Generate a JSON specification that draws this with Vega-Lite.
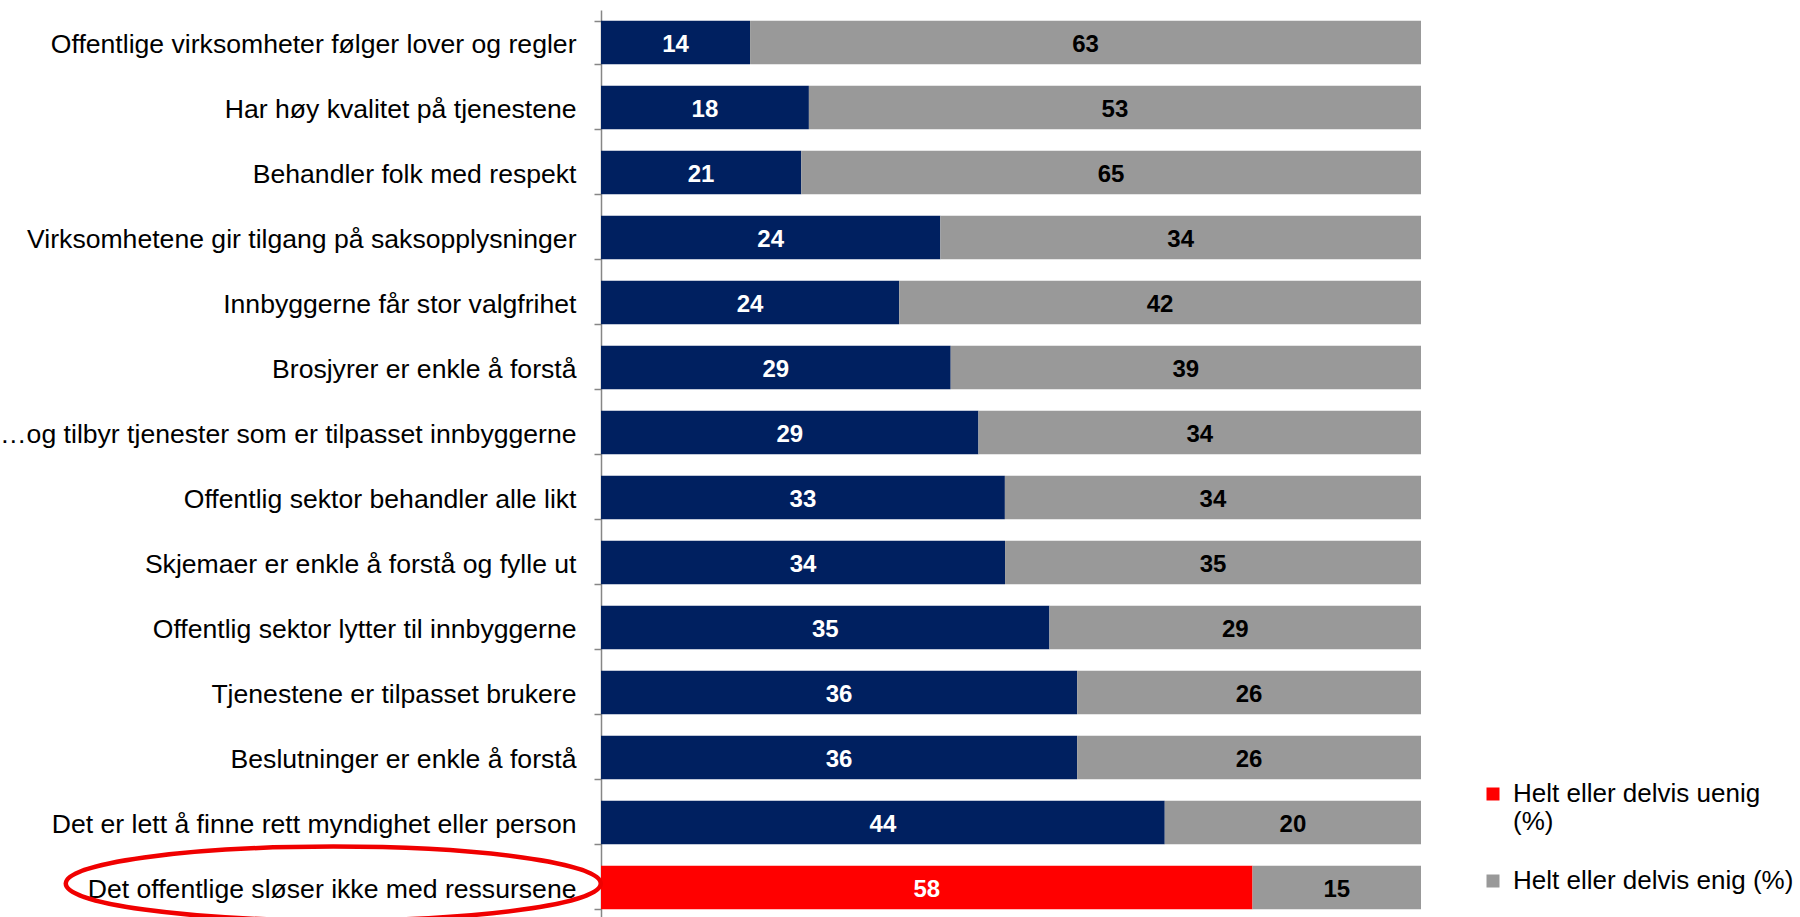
{
  "$schema": "https://vega.github.io/schema/vega-lite/v6.json",
  "autosize": {"type": "none"},
  "padding": {"left": 601, "top": 10, "right": 379, "bottom": 0},
  "width": 820,
  "height": 910,
  "background": "white",
  "config": {"view": {"stroke": null}},
  "data": {
    "values": [
      {"utsagn": "Offentlige virksomheter følger lover og regler", "svar": "Helt eller delvis uenig (%)", "prosent": 14, "markert": false},
      {"utsagn": "Offentlige virksomheter følger lover og regler", "svar": "Helt eller delvis enig (%)", "prosent": 63, "markert": false},
      {"utsagn": "Har høy kvalitet på tjenestene", "svar": "Helt eller delvis uenig (%)", "prosent": 18, "markert": false},
      {"utsagn": "Har høy kvalitet på tjenestene", "svar": "Helt eller delvis enig (%)", "prosent": 53, "markert": false},
      {"utsagn": "Behandler folk med respekt", "svar": "Helt eller delvis uenig (%)", "prosent": 21, "markert": false},
      {"utsagn": "Behandler folk med respekt", "svar": "Helt eller delvis enig (%)", "prosent": 65, "markert": false},
      {"utsagn": "Virksomhetene gir tilgang på saksopplysninger", "svar": "Helt eller delvis uenig (%)", "prosent": 24, "markert": false},
      {"utsagn": "Virksomhetene gir tilgang på saksopplysninger", "svar": "Helt eller delvis enig (%)", "prosent": 34, "markert": false},
      {"utsagn": "Innbyggerne får stor valgfrihet", "svar": "Helt eller delvis uenig (%)", "prosent": 24, "markert": false},
      {"utsagn": "Innbyggerne får stor valgfrihet", "svar": "Helt eller delvis enig (%)", "prosent": 42, "markert": false},
      {"utsagn": "Brosjyrer er enkle å forstå", "svar": "Helt eller delvis uenig (%)", "prosent": 29, "markert": false},
      {"utsagn": "Brosjyrer er enkle å forstå", "svar": "Helt eller delvis enig (%)", "prosent": 39, "markert": false},
      {"utsagn": "…og tilbyr tjenester som er tilpasset innbyggerne", "svar": "Helt eller delvis uenig (%)", "prosent": 29, "markert": false},
      {"utsagn": "…og tilbyr tjenester som er tilpasset innbyggerne", "svar": "Helt eller delvis enig (%)", "prosent": 34, "markert": false},
      {"utsagn": "Offentlig sektor behandler alle likt", "svar": "Helt eller delvis uenig (%)", "prosent": 33, "markert": false},
      {"utsagn": "Offentlig sektor behandler alle likt", "svar": "Helt eller delvis enig (%)", "prosent": 34, "markert": false},
      {"utsagn": "Skjemaer er enkle å forstå og fylle ut", "svar": "Helt eller delvis uenig (%)", "prosent": 34, "markert": false},
      {"utsagn": "Skjemaer er enkle å forstå og fylle ut", "svar": "Helt eller delvis enig (%)", "prosent": 35, "markert": false},
      {"utsagn": "Offentlig sektor lytter til innbyggerne", "svar": "Helt eller delvis uenig (%)", "prosent": 35, "markert": false},
      {"utsagn": "Offentlig sektor lytter til innbyggerne", "svar": "Helt eller delvis enig (%)", "prosent": 29, "markert": false},
      {"utsagn": "Tjenestene er tilpasset brukere", "svar": "Helt eller delvis uenig (%)", "prosent": 36, "markert": false},
      {"utsagn": "Tjenestene er tilpasset brukere", "svar": "Helt eller delvis enig (%)", "prosent": 26, "markert": false},
      {"utsagn": "Beslutninger er enkle å forstå", "svar": "Helt eller delvis uenig (%)", "prosent": 36, "markert": false},
      {"utsagn": "Beslutninger er enkle å forstå", "svar": "Helt eller delvis enig (%)", "prosent": 26, "markert": false},
      {"utsagn": "Det er lett å finne rett myndighet eller person", "svar": "Helt eller delvis uenig (%)", "prosent": 44, "markert": false},
      {"utsagn": "Det er lett å finne rett myndighet eller person", "svar": "Helt eller delvis enig (%)", "prosent": 20, "markert": false},
      {"utsagn": "Det offentlige sløser ikke med ressursene", "svar": "Helt eller delvis uenig (%)", "prosent": 58, "markert": true},
      {"utsagn": "Det offentlige sløser ikke med ressursene", "svar": "Helt eller delvis enig (%)", "prosent": 15, "markert": true}
    ]
  },
  "transform": [
    {"stack": "prosent", "groupby": ["utsagn"], "sort": [{"field": "svar", "order": "descending"}], "offset": "normalize", "as": ["x0", "x1"]},
    {"calculate": "(datum.x0 + datum.x1) / 2", "as": "xmid"}
  ],
  "encoding": {
    "y": {
      "field": "utsagn",
      "type": "nominal",
      "sort": null,
      "title": null,
      "scale": {"paddingInner": 0.33, "paddingOuter": 0.165},
      "axis": {
        "domainColor": "#868686",
        "domainWidth": 1.5,
        "tickColor": "#868686",
        "tickWidth": 1.5,
        "tickSize": 7,
        "tickBand": "extent",
        "labelPadding": 18,
        "labelOffset": 2,
        "labelFont": "Liberation Sans",
        "labelFontSize": 26.6,
        "labelColor": "#000000",
        "labelLimit": 900
      }
    }
  },
  "layer": [
    {
      "mark": {"type": "bar"},
      "encoding": {
        "x": {"field": "x0", "type": "quantitative", "scale": {"domain": [0, 1]}, "axis": null},
        "x2": {"field": "x1"},
        "color": {
          "condition": {"test": "datum.svar === 'Helt eller delvis uenig (%)' && !datum.markert", "value": "#002060"},
          "field": "svar",
          "type": "nominal",
          "scale": {"domain": ["Helt eller delvis uenig (%)", "Helt eller delvis enig (%)"], "range": ["#FF0000", "#999999"]},
          "legend": {
            "title": null,
            "orient": "none",
            "legendX": 879,
            "legendY": 771,
            "padding": 0,
            "symbolType": "square",
            "symbolSize": 169,
            "symbolStrokeWidth": 0,
            "symbolOpacity": 1,
            "labelFont": "Liberation Sans",
            "labelFontSize": 26,
            "labelColor": "#000000",
            "labelLimit": 400,
            "labelOffset": 7,
            "rowPadding": 33,
            "labelExpr": "datum.label === 'Helt eller delvis uenig (%)' ? ['Helt eller delvis uenig', '(%)'] : datum.label"
          }
        }
      }
    },
    {
      "mark": {"type": "text", "font": "Liberation Sans", "fontWeight": "bold", "fontSize": 24, "baseline": "middle", "align": "center", "dy": 2},
      "encoding": {
        "x": {"field": "xmid", "type": "quantitative"},
        "text": {"field": "prosent", "type": "quantitative"},
        "color": {"condition": {"test": "datum.svar === 'Helt eller delvis enig (%)'", "value": "#000000"}, "value": "#FFFFFF"}
      }
    },
    {
      "transform": [{"filter": "datum.markert && datum.svar === 'Helt eller delvis uenig (%)'"}],
      "mark": {
        "type": "point",
        "shape": "M -1 0 A 1 0.138 0 1 1 1 0 A 1 0.138 0 1 1 -1 0 Z",
        "filled": false,
        "stroke": "#F00000",
        "strokeWidth": 4.5,
        "opacity": 1,
        "size": 286225,
        "yOffset": -4
      },
      "encoding": {
        "x": {"datum": -0.3265, "type": "quantitative"}
      }
    }
  ]
}
